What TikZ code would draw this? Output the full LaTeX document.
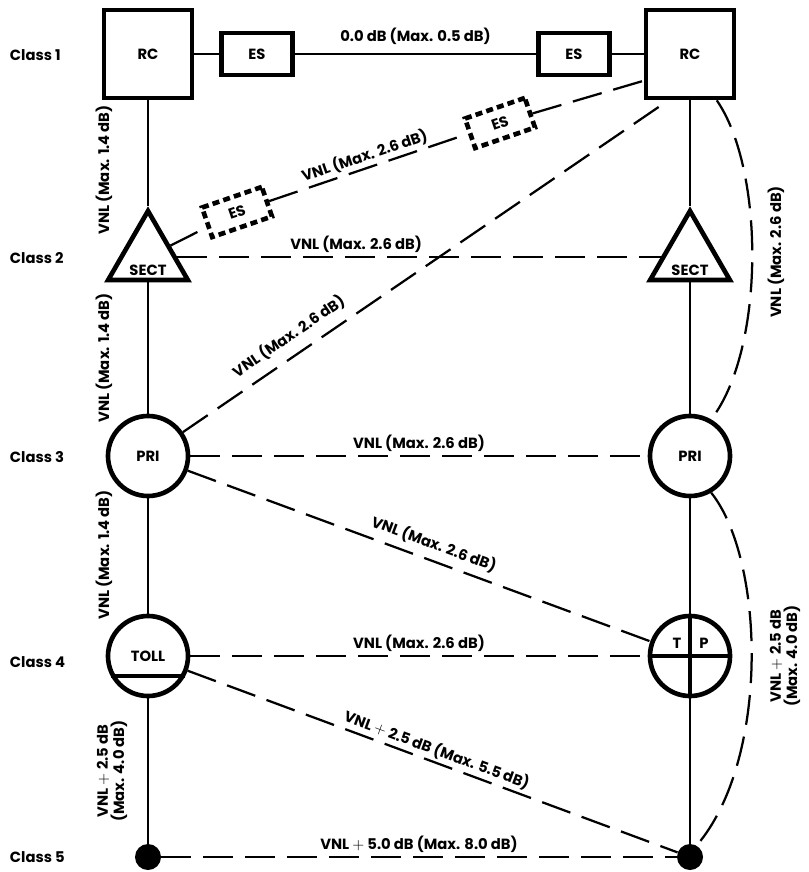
\documentclass[tikz,border=0pt]{standalone}
\usepackage{fontspec}
\setmainfont{Poppins}
\usetikzlibrary{positioning,shapes.geometric}

\begin{document}
\begin{tikzpicture}[
  x=0.025cm, y=-0.025cm,
  font=\fontsize{10.5}{11.5}\selectfont\bfseries,
  every node/.append style={align=center},
  office/.style={draw, line width=3.3pt, inner sep=0pt, fill=white},
  rcbox/.style={office, minimum width=2.2cm, minimum height=2.2cm},
  esbox/.style={office, minimum width=1.78cm, minimum height=1.05cm},
  esopt/.style={office, dash pattern=on 5pt off 3pt, minimum width=1.58cm, minimum height=0.78cm, rotate=19},
  sect/.style={office, regular polygon, regular polygon sides=3, minimum size=2.3cm},
  ring/.style={office, circle, minimum size=2cm},
  endpt/.style={circle, fill, inner sep=0pt, minimum size=0.65cm},
  cls/.style={anchor=west},
  lbl/.style={inner sep=2pt},
  trunk/.style={line width=1.6pt},
  alt/.style={line width=1.6pt, dash pattern=on 0.75cm off 0.3cm},
]
\useasboundingbox (0,0) rectangle (808,872);
% offices, left column
\node[rcbox] (rcL) at (148,54) {RC};
\node[sect] (sectL) at (148,257) {};
\node (sectLt) at ([yshift=-0.34cm]sectL.center) {SECT};
\node[ring] (priL) at (148,456) {PRI};
\node[ring] (tollL) at (148,656) {TOLL};
\node[endpt] (dotL) at (148,857) {};
% offices, right column
\node[rcbox] (rcR) at (690,54) {RC};
\node[sect] (sectR) at (690,257) {};
\node (sectRt) at ([yshift=-0.34cm]sectR.center) {SECT};
\node[ring] (priR) at (690,456) {PRI};
\node[ring] (tpR) at (690,656) {};
\node (tpT) at (677,643) {T};
\node (tpP) at (704,643) {P};
\node[endpt] (dotR) at (690,857) {};
% echo suppressors
\node[esbox] (esL) at (257,54) {ES};
\node[esbox] (esR) at (574,54) {ES};
\node[esopt] (esA) at (237,212) {ES};
\node[esopt] (esB) at (500,123) {ES};
% class names
\node[cls] (c1) at (5,55) {Class 1};
\node[cls] (c2) at (5,258) {Class 2};
\node[cls] (c3) at (5,457) {Class 3};
\node[cls] (c4) at (5,662) {Class 4};
\node[cls] (c5) at (5,857) {Class 5};

% final trunks
\draw[trunk] (rcL) -- (esL);
\draw[trunk] (esL) -- node[lbl, above=4pt] (l1) {0.0 dB (Max. 0.5 dB)} (esR);
\draw[trunk] (esR) -- (rcR);
\draw[trunk] (rcL) -- (sectL.corner 1);
\draw[trunk] (sectL.south) -- (priL);
\draw[trunk] (priL) -- (tollL);
\draw[trunk] (tollL) -- (dotL);
\draw[trunk] (rcR) -- (sectR.corner 1);
\draw[trunk] (sectR.south) -- (priR);
\draw[trunk] (priR) -- (tpR.north);
\draw[trunk] (tpR.south) -- (dotR);
\draw[line width=3.3pt] (tpR.north) -- (tpR.south);
\draw[line width=3.3pt] (tpR.west) -- (tpR.east);
\draw[line width=3.3pt] (tollL.-28) -- (tollL.208);
\node[lbl, rotate=90] (v1) at (104,170) {VNL (Max. 1.4 dB)};
\node[lbl, rotate=90] (v2) at (104,358) {VNL (Max. 1.4 dB)};
\node[lbl, rotate=90] (v3) at (104,555) {VNL (Max. 1.4 dB)};
\node[lbl, rotate=90] (v4) at (112,771) {VNL $+$ 2.5 dB\\(Max. 4.0 dB)};

% high-usage trunks
\draw[alt] (sectL) -- (esA);
\draw[alt] (esA) -- node[lbl, above, sloped] (l2) {VNL (Max. 2.6 dB)} (esB);
\draw[alt] (esB) -- (rcR.210);
\draw[alt] (sectL) -- node[lbl, above, pos=0.37] (l3) {VNL (Max. 2.6 dB)} (sectR);
\draw[alt] (priL) -- node[lbl, above=5pt, sloped, pos=0.24] (l4) {VNL (Max. 2.6 dB)} (rcR.-115);
\draw[alt] (rcR.-60) .. controls (765,170) and (765,350) .. (priR.60);
\node[lbl, rotate=90] (l5) at (776,252) {VNL (Max. 2.6 dB)};
\draw[alt] (priL) -- node[lbl, above] (l6) {VNL (Max. 2.6 dB)} (priR);
\draw[alt] (priL) -- node[lbl, above=3pt, sloped, pos=0.52] (l7) {VNL (Max. 2.6 dB)} (tpR);
\draw[alt] (tollL) -- node[lbl, above] (l8) {VNL (Max. 2.6 dB)} (tpR);
\draw[alt] (tollL) -- node[lbl, above=0pt, sloped, pos=0.5] (l9) {VNL $+$ 2.5 dB (Max. 5.5 dB)} (dotR);
\draw[alt] (priR.-60) .. controls (765,560) and (770,760) .. (dotR.60);
\node[lbl, rotate=90] (l10) at (785,656) {VNL $+$ 2.5 dB\\(Max. 4.0 dB)};
\draw[alt] (dotL) -- node[lbl, above] (l11) {VNL $+$ 5.0 dB (Max. 8.0 dB)} (dotR);
\end{tikzpicture}
\end{document}
